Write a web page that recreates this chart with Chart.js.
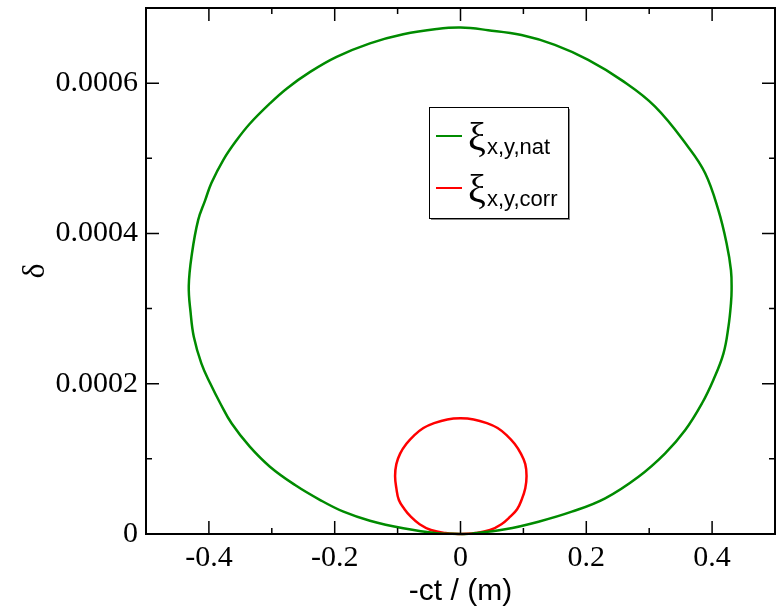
<!DOCTYPE html>
<html>
<head>
<meta charset="utf-8">
<script src="https://cdn.jsdelivr.net/npm/chart.js@4/dist/chart.umd.min.js"></script>
<style>
  html, body { margin: 0; padding: 0; background: #fff; }
  #wrap { width: 778px; height: 607px; }
</style>
</head>
<body>
<div id="wrap"><canvas id="chart" width="778" height="607"></canvas></div>
<script>
// data
const greenX = [0, -0.038, -0.091, -0.144, -0.186, -0.223, -0.263, -0.303, -0.335, -0.364, -0.382, -0.398, -0.412, -0.424, -0.429, -0.432,
    -0.427, -0.417, -0.406, -0.396, -0.377, -0.356, -0.335, -0.303, -0.276, -0.239, -0.197, -0.144, -0.091, -0.038, 0,
    0.044, 0.097, 0.150, 0.203, 0.256, 0.309, 0.362, 0.389, 0.410, 0.423, 0.430, 0.431, 0.430, 0.426, 0.418, 0.402,
    0.384, 0.357, 0.325, 0.283, 0.230, 0.177, 0.124, 0.071, 0.018, 0];
const greenY = [0, 0.000001, 0.0000076, 0.0000177, 0.0000297, 0.0000452, 0.0000652, 0.0000896, 0.0001162, 0.0001473, 0.000174, 0.0002005, 0.000227, 0.0002625, 0.000294, 0.00033,
    0.000373, 0.000418, 0.000444, 0.000467, 0.000498, 0.000524, 0.000546, 0.000573, 0.000593, 0.000615, 0.000635, 0.000653, 0.000665, 0.000672, 0.000674,
    0.0006705, 0.000664, 0.000651, 0.000631, 0.000604, 0.000569, 0.000515, 0.00048, 0.000431, 0.000387, 0.000351, 0.000325, 0.000307, 0.000276, 0.00024, 0.000205,
    0.000174, 0.000138, 0.000107, 0.0000762, 0.0000475, 0.0000297, 0.0000164, 0.0000062, 0.0000005, 0];

const redX = [0, 0.024, 0.047, 0.065, 0.079, 0.090, 0.097, 0.103, 0.105, 0.103, 0.096, 0.086, 0.074, 0.059, 0.042, 0.021, 0,
    -0.021, -0.042, -0.059, -0.074, -0.086, -0.096, -0.102, -0.104, -0.102, -0.098, -0.089, -0.079, -0.065, -0.047, -0.024, 0];
const redY = [0, 0.0000013, 0.0000053, 0.000013, 0.000023, 0.000033, 0.0000452, 0.000061, 0.0000772, 0.000093, 0.000107, 0.00012, 0.000131, 0.000141, 0.0001475, 0.0001525, 0.0001539,
    0.0001525, 0.0001475, 0.000141, 0.000131, 0.00012, 0.000107, 0.000093, 0.0000772, 0.000061, 0.0000452, 0.000033, 0.000023, 0.000013, 0.0000053, 0.0000013, 0];

const seriesColors = ['#008b00', '#ff0000'];
const seriesSub = ['x,y,nat', 'x,y,corr'];

const xMajor = [-0.4, -0.2, 0, 0.2, 0.4];
const xMinor = [-0.3, -0.1, 0.1, 0.3];
const yMajor = [0, 0.0002, 0.0004, 0.0006];
const yMinor = [0.0001, 0.0003, 0.0005];

const toPoints = (xs, ys) => xs.map((x, i) => ({ x: x, y: ys[i] }));

// frame + inward ticks on all four sides
const frameTicks = {
    id: 'frameTicks',
    afterDatasetsDraw(chart) {
        const { ctx, chartArea: a, scales } = chart;
        const sx = scales.x, sy = scales.y;
        ctx.save();
        ctx.strokeStyle = '#000';
        ctx.lineWidth = 1.5;
        const tick = (vals, len) => {
            vals.forEach(v => {
                const px = sx.getPixelForValue(v);
                ctx.beginPath();
                ctx.moveTo(px, a.bottom); ctx.lineTo(px, a.bottom - len);
                ctx.moveTo(px, a.top); ctx.lineTo(px, a.top + len);
                ctx.stroke();
            });
        };
        const tickY = (vals, len) => {
            vals.forEach(v => {
                const py = sy.getPixelForValue(v);
                ctx.beginPath();
                ctx.moveTo(a.left, py); ctx.lineTo(a.left + len, py);
                ctx.moveTo(a.right, py); ctx.lineTo(a.right - len, py);
                ctx.stroke();
            });
        };
        tick(xMajor, 13);
        tick(xMinor, 6);
        tickY(yMajor, 13);
        tickY(yMinor, 6);
        ctx.lineWidth = 2;
        ctx.strokeRect(a.left, a.top, a.right - a.left, a.bottom - a.top);
        ctx.restore();
    }
};

// legend box with subscripted labels
const subLegend = {
    id: 'subLegend',
    afterDraw(chart) {
        const ctx = chart.ctx;
        const bx = 429, by = 107, bw = 139, bh = 111;
        ctx.save();
        ctx.fillStyle = '#888';
        ctx.fillRect(bx + 2, by + 2, bw, bh);
        ctx.fillStyle = '#fff';
        ctx.fillRect(bx, by, bw, bh);
        ctx.strokeStyle = '#000';
        ctx.lineWidth = 1;
        ctx.strokeRect(bx + 0.5, by + 0.5, bw, bh);
        chart.data.datasets.forEach((ds, i) => {
            const y = 136 + i * 52;
            ctx.strokeStyle = ds.borderColor;
            ctx.lineWidth = 2;
            ctx.beginPath();
            ctx.moveTo(436, y); ctx.lineTo(462, y);
            ctx.stroke();
            ctx.fillStyle = '#000';
            ctx.textBaseline = 'alphabetic';
            ctx.font = '40px "Liberation Serif"';
            ctx.fillText('ξ', 468, y + 14);
            ctx.font = '22px "Liberation Sans"';
            ctx.fillText(seriesSub[i], 487, y + 18);
        });
        ctx.restore();
    }
};

const ctx = document.getElementById('chart').getContext('2d');
new Chart(ctx, {
    type: 'line',
    data: {
        datasets: [{
            label: 'ξx,y,nat',
            data: toPoints(greenX, greenY),
            borderColor: seriesColors[0],
            borderWidth: 2.5,
            pointRadius: 0,
            fill: false,
            tension: 0.4,
            clip: 4
        }, {
            label: 'ξx,y,corr',
            data: toPoints(redX, redY),
            borderColor: seriesColors[1],
            borderWidth: 2.5,
            pointRadius: 0,
            fill: false,
            tension: 0.4,
            clip: 4
        }]
    },
    options: {
        responsive: false,
        animation: false,
        layout: { padding: { top: 8, right: 3, left: 0, bottom: 0 } },
        plugins: {
            legend: { display: false },
            tooltip: { enabled: false }
        },
        scales: {
            x: {
                type: 'linear',
                min: -0.5,
                max: 0.5,
                afterBuildTicks: scale => { scale.ticks = xMajor.map(v => ({ value: v })); },
                afterFit: scale => {
                    scale.height = 73;
                    scale.paddingLeft = 0;
                    scale.paddingRight = 0;
                },
                grid: { display: false, drawTicks: false },
                border: { display: false },
                ticks: {
                    padding: 6,
                    color: '#000',
                    font: { family: 'Liberation Serif', size: 30 },
                    maxRotation: 0,
                    callback: v => String(+Number(v).toFixed(4))
                },
                title: {
                    display: true,
                    text: '-ct / (m)',
                    color: '#000',
                    font: { family: 'Liberation Sans', size: 30, lineHeight: 1 },
                    padding: { top: 0, bottom: 0 }
                }
            },
            y: {
                type: 'linear',
                min: 0,
                max: 0.0007,
                afterBuildTicks: scale => { scale.ticks = yMajor.map(v => ({ value: v })); },
                afterFit: scale => {
                    scale.width = 146;
                    scale.paddingTop = 0;
                    scale.paddingBottom = 0;
                },
                grid: { display: false, drawTicks: false },
                border: { display: false },
                ticks: {
                    padding: 8,
                    color: '#000',
                    font: { family: 'Liberation Serif', size: 30 },
                    callback: v => String(+Number(v).toFixed(4))
                },
                title: {
                    display: true,
                    text: 'δ',
                    color: '#000',
                    font: { family: 'Liberation Serif', size: 32, lineHeight: 1 },
                    padding: { top: 20, bottom: 0 }
                }
            }
        }
    },
    plugins: [frameTicks, subLegend]
});
</script>
</body>
</html>
